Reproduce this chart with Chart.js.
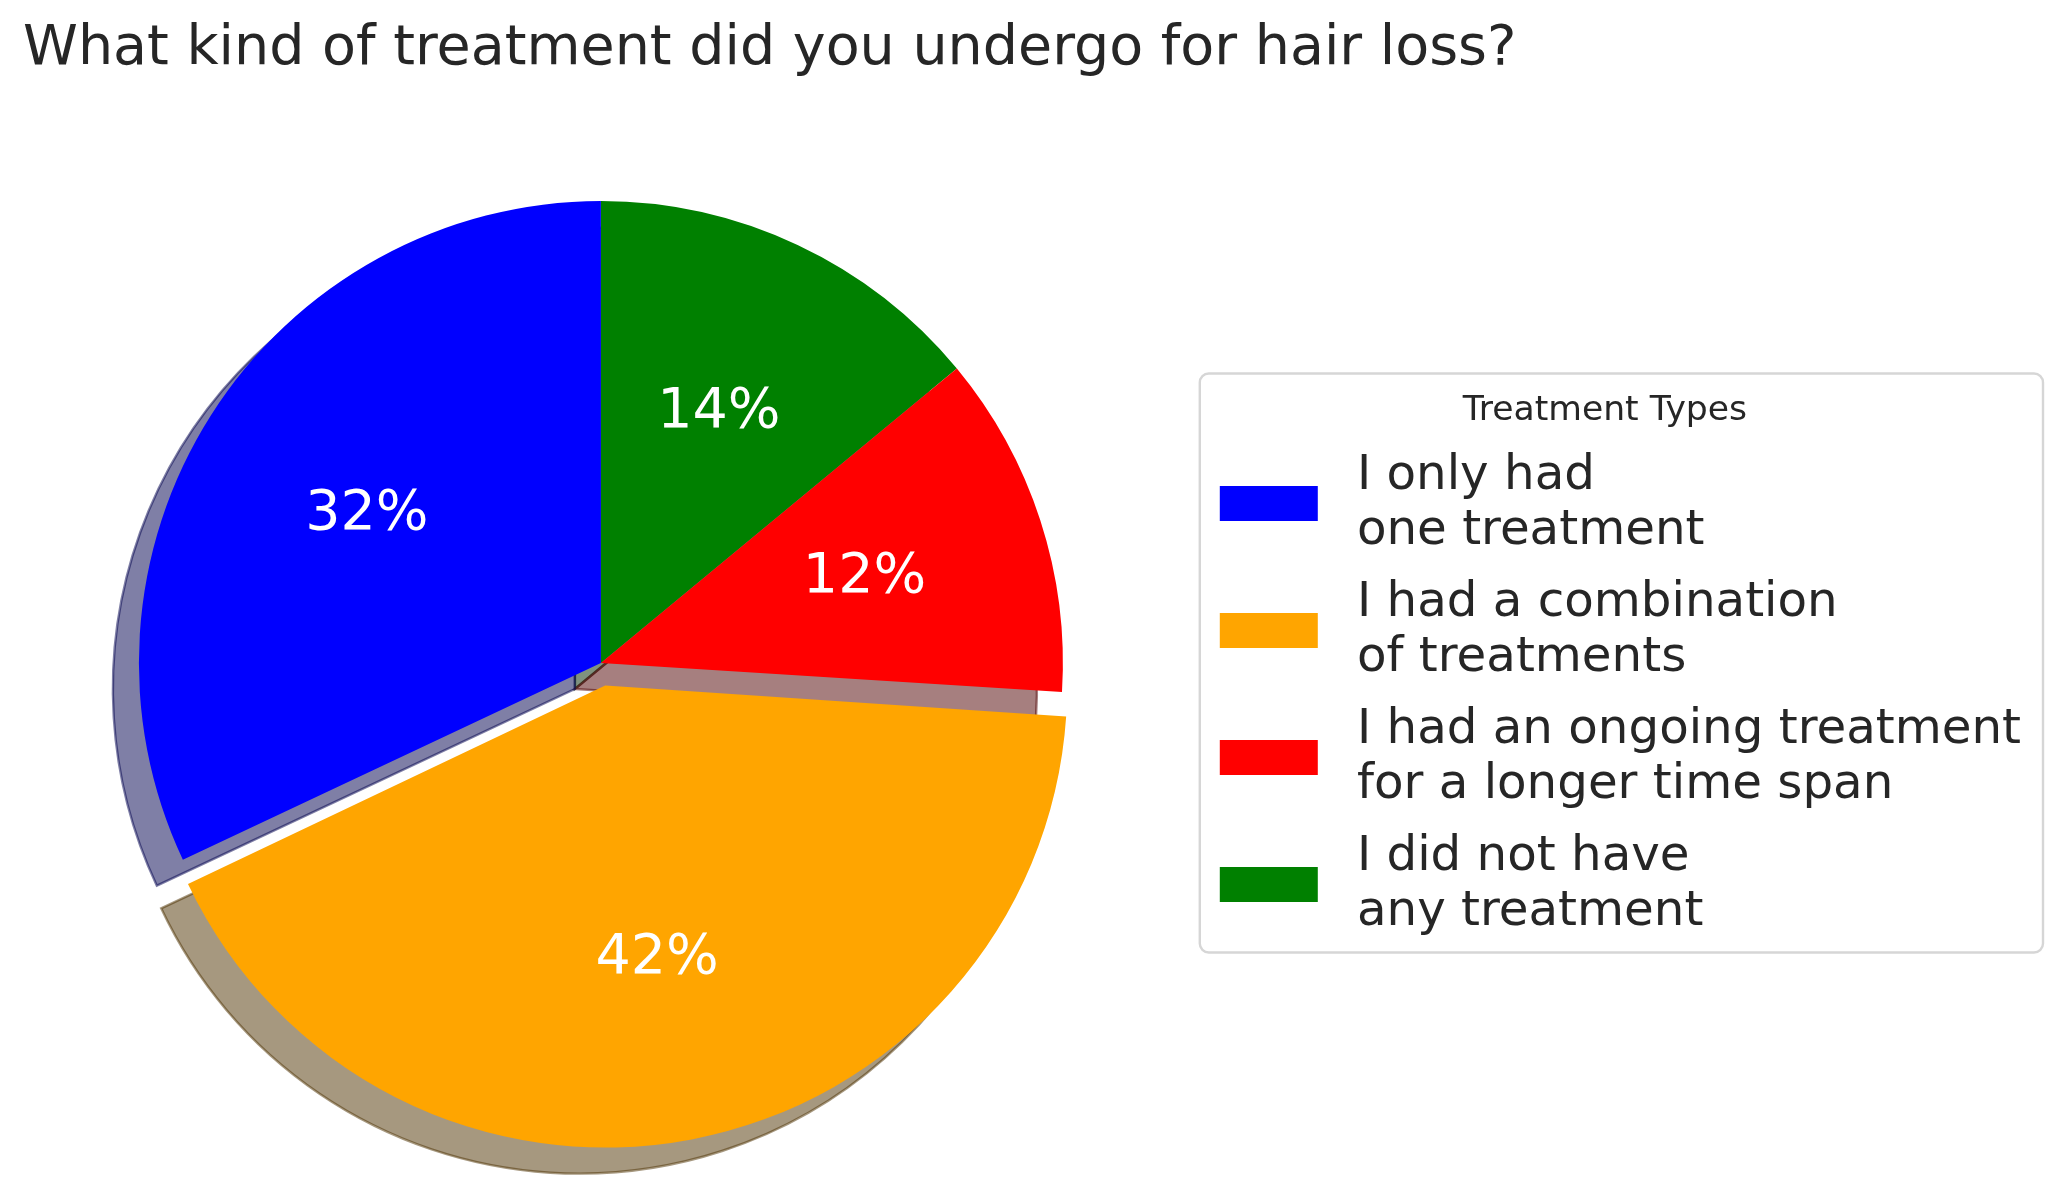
<!DOCTYPE html>
<html>
<head>
<meta charset="utf-8">
<title>Hair loss treatment</title>
<script src="https://cdn.jsdelivr.net/npm/chart.js@4.4.0/dist/chart.umd.min.js"></script>
<style>
  html, body { margin: 0; padding: 0; background: #fff; }
  #wrap { width: 2057px; height: 1187px; position: relative; }
</style>
</head>
<body>
<div id="wrap"><canvas id="pieChart"></canvas></div>
<script>
// legend order (matplotlib draws these counter-clockwise from 12 o'clock)
var categories = [
  ["I only had", "one treatment"],
  ["I had a combination", "of treatments"],
  ["I had an ongoing treatment", "for a longer time span"],
  ["I did not have", "any treatment"],
];
var shares = [32, 42, 12, 14];
var colors = ["#0000ff", "#ffa500", "#ff0000", "#008000"];
var explode = [0, 92, 0, 0];

// Chart.js goes clockwise, so feed it the reversed order
var labels = categories.slice().reverse();
var values = shares.slice().reverse();
var sliceColors = colors.slice().reverse();
var sliceOffsets = explode.slice().reverse();

var TEXT = "#262626";
var SHADOW_DX = -26;
var SHADOW_DY = 26;
var PCT_SIZE = 55.5;

Chart.defaults.font.family = "DejaVu Sans";

function shadowColor(hex) {
  var n = parseInt(hex.slice(1), 16);
  var r = (n >> 16) & 255, g = (n >> 8) & 255, b = n & 255;
  return "rgba(" + r * 0.3 + "," + g * 0.3 + "," + b * 0.3 + ",0.5)";
}

// same shift the arc element applies for its offset
function arcShift(arc) {
  var off = (arc.options.offset || 0) / 4;
  var mid = (arc.startAngle + arc.endAngle) / 2;
  return { dx: Math.cos(mid) * off, dy: Math.sin(mid) * off, off: off };
}

// the arc element grows an offset wedge; pull it back to the pie radius
var keepRadius = {
  id: "keepRadius",
  afterDatasetUpdate: function (chart, args) {
    var R = args.meta.controller.outerRadius;
    args.meta.data.forEach(function (arc) {
      var s = arcShift(arc);
      arc.outerRadius = R - s.off * (1 - Math.sin(Math.min(Math.PI, arc.circumference)));
    });
  },
};

var pieShadow = {
  id: "pieShadow",
  beforeDatasetsDraw: function (chart) {
    var ctx = chart.ctx;
    var meta = chart.getDatasetMeta(0);
    var R = meta.controller.outerRadius;
    meta.data.forEach(function (arc, i) {
      var s = arcShift(arc);
      var c = shadowColor(sliceColors[i]);
      ctx.save();
      ctx.translate(s.dx + SHADOW_DX, s.dy + SHADOW_DY);
      ctx.beginPath();
      ctx.moveTo(arc.x, arc.y);
      ctx.arc(arc.x, arc.y, R, arc.startAngle, arc.endAngle);
      ctx.closePath();
      ctx.fillStyle = c;
      ctx.fill();
      ctx.strokeStyle = c;
      ctx.lineWidth = 2.4;
      ctx.stroke();
      ctx.restore();
    });
  },
};

var pctLabels = {
  id: "pctLabels",
  afterDatasetsDraw: function (chart) {
    var ctx = chart.ctx;
    var meta = chart.getDatasetMeta(0);
    var R = meta.controller.outerRadius;
    var total = values.reduce(function (a, b) { return a + b; }, 0);
    ctx.save();
    ctx.font = PCT_SIZE + "px 'DejaVu Sans'";
    ctx.fillStyle = "#ffffff";
    ctx.textAlign = "center";
    ctx.textBaseline = "alphabetic";
    meta.data.forEach(function (arc, i) {
      var s = arcShift(arc);
      var mid = (arc.startAngle + arc.endAngle) / 2;
      var x = arc.x + Math.cos(mid) * R * 0.6 + s.dx;
      var y = arc.y + Math.sin(mid) * R * 0.6 + s.dy;
      ctx.fillText(Math.round((values[i] / total) * 100) + "%", x, y + PCT_SIZE * 0.27);
    });
    ctx.restore();
  },
};

var legendFrame = {
  id: "legendFrame",
  afterDraw: function (chart) {
    var legend = chart.legend;
    var boxes = legend.legendHitBoxes;
    var ctx = chart.ctx;
    var first = boxes[0], last = boxes[boxes.length - 1];
    var widest = Math.max.apply(null, boxes.map(function (b) { return b.width; }));
    var x0 = first.left + 4, x1 = first.left + widest + 22;
    var y0 = first.top - 79, y1 = last.top + last.height + 9;
    var rad = 9;
    ctx.save();
    ctx.beginPath();
    ctx.moveTo(x0 + rad, y0);
    ctx.arcTo(x1, y0, x1, y1, rad);
    ctx.arcTo(x1, y1, x0, y1, rad);
    ctx.arcTo(x0, y1, x0, y0, rad);
    ctx.arcTo(x0, y0, x1, y0, rad);
    ctx.closePath();
    ctx.strokeStyle = "#d6d6d6";
    ctx.lineWidth = 2.4;
    ctx.stroke();
    // colour patches centred on each two-line entry
    legend.legendItems.forEach(function (item, i) {
      var hb = boxes[i];
      ctx.fillStyle = sliceColors[item.index];
      ctx.fillRect(hb.left + 24, hb.top + hb.height / 2 - 4 - 17.5, 98, 35);
    });
    ctx.restore();
  },
};

var ctx = document.getElementById("pieChart").getContext("2d");
var pieChart = new Chart(ctx, {
  type: "pie",
  data: {
    labels: labels,
    datasets: [
      {
        data: values,
        backgroundColor: sliceColors,
        borderWidth: 0,
        offset: sliceOffsets,
        radius: 462,
      },
    ],
  },
  options: {
    responsive: true,
    maintainAspectRatio: false,
    devicePixelRatio: 1,
    animation: false,
    events: [],
    layout: {
      padding: { left: 23, right: 26, top: 0, bottom: 0 },
    },
    plugins: {
      tooltip: { enabled: false },
      title: {
        display: true,
        text: "What kind of treatment did you undergo for hair loss?",
        align: "start",
        color: TEXT,
        font: { size: 55.5, weight: "normal", lineHeight: 1.2 },
        padding: { top: 16.4, bottom: 56 },
      },
      legend: {
        position: "right",
        fullSize: false,
        reverse: true,
        title: {
          display: true,
          text: "Treatment Types",
          color: TEXT,
          font: { size: 34.6, lineHeight: 1 },
          padding: { top: 28.2, bottom: 7.2 },
        },
        labels: {
          color: TEXT,
          font: { size: 48.3, lineHeight: "55px" },
          boxWidth: 137,
          boxHeight: 35,
          padding: 17,
          generateLabels: function (chart) {
            return chart.data.labels.map(function (label, i) {
              return {
                text: label,
                fillStyle: "rgba(0,0,0,0)",
                strokeStyle: "rgba(0,0,0,0)",
                lineWidth: 0,
                fontColor: TEXT,
                hidden: false,
                index: i,
              };
            });
          },
        },
      },
    },
  },
  plugins: [keepRadius, pieShadow, pctLabels, legendFrame],
});
</script>
</body>
</html>
